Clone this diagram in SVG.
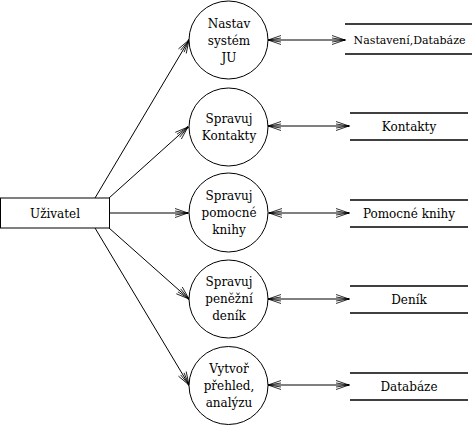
<svg xmlns="http://www.w3.org/2000/svg" width="473" height="426" viewBox="0 0 473 426">
<defs>
<style>
text{font-family:"DejaVu Serif","Liberation Serif",serif;font-size:12px;fill:#000;text-anchor:middle}
.n{fill:#fff;stroke:#000;stroke-width:1}
.c{fill:none;stroke:#000;stroke-width:1}
.s{stroke:#000;stroke-width:1.3}
</style>
<marker id="ah" markerUnits="userSpaceOnUse" markerWidth="16" markerHeight="12" viewBox="-14 -6 16 12" refX="0" refY="0" orient="auto-start-reverse" overflow="visible">
<path d="M-13,-4.5 L0,0 L-13,4.5 M-13,-2 L0,0 L-13,2" fill="none" stroke="#000" stroke-width="0.8"/>
<rect x="-1.5" y="-1" width="2" height="2" fill="#000"/>
</marker>
</defs>
<g id="connectors">
<line class="c" x1="95" y1="198" x2="189" y2="40" marker-end="url(#ah)"/>
<line class="c" x1="109" y1="198" x2="188" y2="127" marker-end="url(#ah)"/>
<line class="c" x1="109" y1="213" x2="188" y2="213" marker-end="url(#ah)"/>
<line class="c" x1="109" y1="228" x2="189" y2="299" marker-end="url(#ah)"/>
<line class="c" x1="95" y1="228" x2="189" y2="385" marker-end="url(#ah)"/>
<line class="c" x1="268" y1="40" x2="345" y2="40" marker-start="url(#ah)" marker-end="url(#ah)"/>
<line class="c" x1="268" y1="126" x2="349" y2="126" marker-start="url(#ah)" marker-end="url(#ah)"/>
<line class="c" x1="269" y1="213" x2="349" y2="213" marker-start="url(#ah)" marker-end="url(#ah)"/>
<line class="c" x1="268" y1="299" x2="349" y2="299" marker-start="url(#ah)" marker-end="url(#ah)"/>
<line class="c" x1="268" y1="385" x2="349" y2="385" marker-start="url(#ah)" marker-end="url(#ah)"/>
</g>
<g id="uzivatel">
<rect class="n" x="0.5" y="198" width="109" height="30"/>
<text x="55" y="218">Uživatel</text>
</g>
<g id="p1">
<ellipse class="n" cx="228.5" cy="40" rx="39.5" ry="39"/>
<text x="229" y="28">Nastav</text>
<text x="229" y="45">systém</text>
<text x="229" y="62">JU</text>
</g>
<g id="p2">
<ellipse class="n" cx="228.5" cy="127" rx="39.5" ry="39"/>
<text x="229" y="123">Spravuj</text>
<text x="229" y="140">Kontakty</text>
</g>
<g id="p3">
<ellipse class="n" cx="228.5" cy="212.5" rx="39.5" ry="39.5"/>
<text x="229" y="200">Spravuj</text>
<text x="229" y="217">pomocné</text>
<text x="229" y="234">knihy</text>
</g>
<g id="p4">
<ellipse class="n" cx="228.5" cy="299" rx="39.5" ry="39"/>
<text x="229" y="286">Spravuj</text>
<text x="229" y="303">peněžní</text>
<text x="229" y="320">deník</text>
</g>
<g id="p5">
<ellipse class="n" cx="228.5" cy="385.5" rx="39.5" ry="39"/>
<text x="229" y="373">Vytvoř</text>
<text x="229" y="390">přehled,</text>
<text x="229" y="407">analýzu</text>
</g>
<g id="d1">
<line class="s" x1="345" y1="24" x2="472" y2="24"/>
<line class="s" x1="345" y1="54" x2="472" y2="54"/>
<text x="409.5" y="44" style="font-size:11px">Nastavení,Databáze</text>
</g>
<g id="d2">
<line class="s" x1="350" y1="113" x2="468" y2="113"/>
<line class="s" x1="350" y1="140" x2="468" y2="140"/>
<text x="409" y="131">Kontakty</text>
</g>
<g id="d3">
<line class="s" x1="350" y1="200" x2="468" y2="200"/>
<line class="s" x1="350" y1="227" x2="468" y2="227"/>
<text x="409" y="218">Pomocné knihy</text>
</g>
<g id="d4">
<line class="s" x1="350" y1="286" x2="468" y2="286"/>
<line class="s" x1="350" y1="313" x2="468" y2="313"/>
<text x="409" y="304">Deník</text>
</g>
<g id="d5">
<line class="s" x1="350" y1="373" x2="468" y2="373"/>
<line class="s" x1="350" y1="400" x2="468" y2="400"/>
<text x="409" y="391">Databáze</text>
</g>
</svg>
